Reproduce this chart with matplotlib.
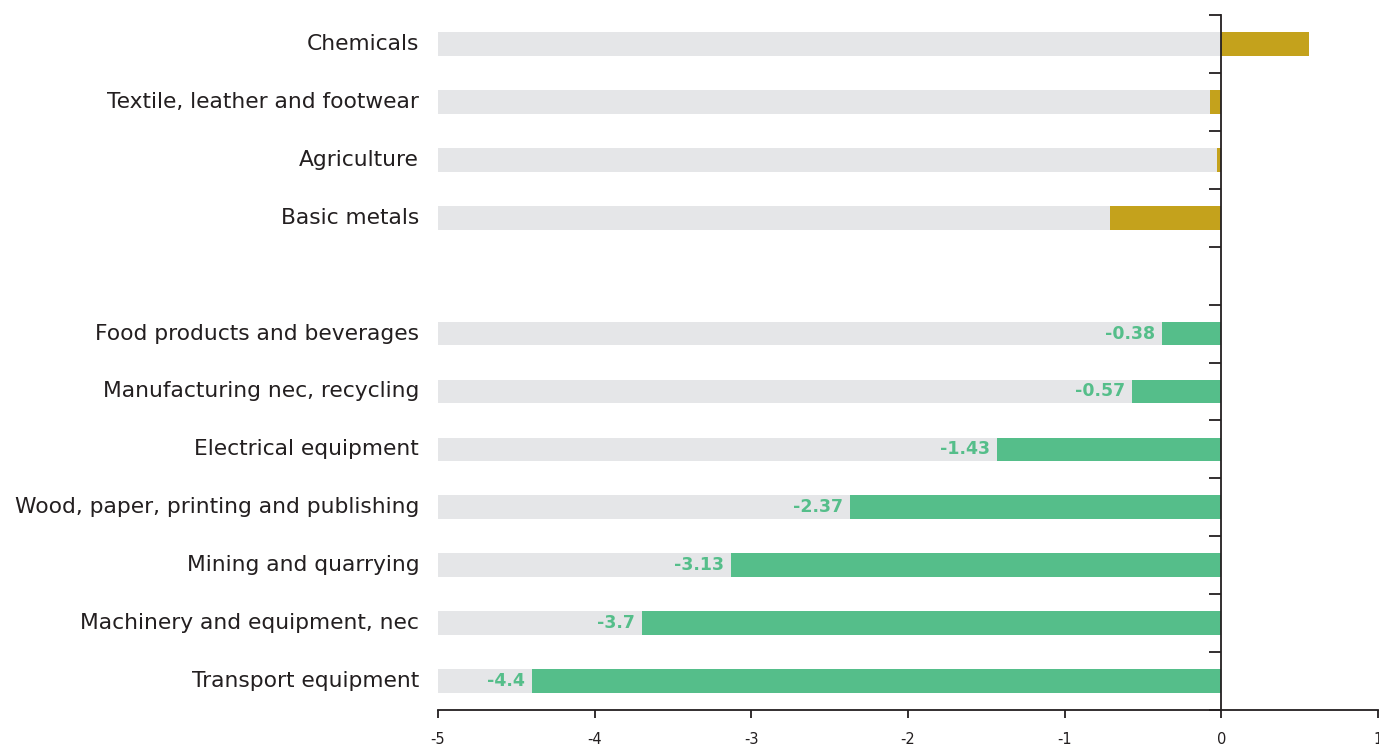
import numpy as np
import matplotlib
matplotlib.use('Agg')
import matplotlib.pyplot as plt
from matplotlib.transforms import blended_transform_factory

# data
pos_sectors = ["Chemicals", "Textile, leather and footwear", "Agriculture", "Basic metals"]
pos_values = [0.56, -0.07, -0.03, -0.71]
neg_sectors = ["Food products and beverages", "Manufacturing nec, recycling",
               "Electrical equipment", "Wood, paper, printing and publishing",
               "Mining and quarrying", "Machinery and equipment, nec",
               "Transport equipment"]
neg_values = [-0.38, -0.57, -1.43, -2.37, -3.13, -3.7, -4.4]
x_ticks = [-5, -4, -3, -2, -1, 0, 1]

GOLD = "#C4A21C"
GREEN = "#55BE8A"
GREY = "#E5E6E8"
DARK = "#231F20"

plt.rcParams['font.family'] = ['DejaVu Sans']

fig = plt.figure(figsize=(13.79, 7.46), dpi=100)
ax = fig.add_axes([438/1379, 1-710/746, 940/1379, 695/746])

n_slots = len(pos_sectors) + 1 + len(neg_sectors)
y_pos = list(range(len(pos_sectors)))
y_neg = list(range(len(pos_sectors) + 1, n_slots))
h = 0.41
xmin = -5

# grey background: from -5 up to the bar start (or to 0 for positive)
for y, v in zip(y_pos, pos_values):
    ax.barh(y, min(v, 0) - xmin, left=xmin, height=h, color=GREY, lw=0)
    ax.barh(y, v, left=0, height=h, color=GOLD, lw=0)
for y, v in zip(y_neg, neg_values):
    ax.barh(y, v - xmin, left=xmin, height=h, color=GREY, lw=0)
    ax.barh(y, v, left=0, height=h, color=GREEN, lw=0)
    ax.text(v - 0.045, y, f"{v:g}", ha='right', va='center', color=GREEN,
            fontsize=12.5, fontweight='bold')

trans = blended_transform_factory(ax.transAxes, ax.transData)
for y, name in zip(y_pos + y_neg, pos_sectors + neg_sectors):
    ax.text(-0.02, y, name, transform=trans, ha='right', va='center',
            fontsize=15.7, color=DARK)

ax.set_xlim(-5, 1)
ax.set_ylim(n_slots - 0.5, -0.5)
ax.set_xticks(x_ticks)
ax.set_xticklabels([str(t) for t in x_ticks], fontsize=10.5, color=DARK)
ax.set_yticks(np.arange(-0.5, n_slots, 1.0))
ax.set_yticklabels([])

for s in ['top', 'right']:
    ax.spines[s].set_visible(False)
ax.spines['left'].set_position(('data', 0))
ax.spines['left'].set_color(DARK)
ax.spines['bottom'].set_color(DARK)
ax.spines['left'].set_linewidth(1.3)
ax.spines['bottom'].set_linewidth(1.3)
ax.tick_params(axis='y', length=9, width=1.3, color=DARK, direction='out')
ax.tick_params(axis='x', length=6, width=1.3, color=DARK, pad=10)
ax.set_zorder(1)

fig.savefig("out.png", dpi=100)
